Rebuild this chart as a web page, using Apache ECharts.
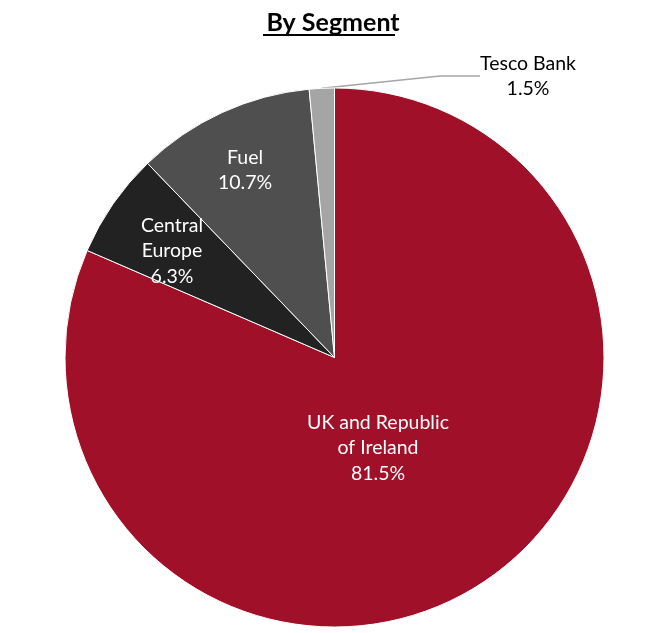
<!DOCTYPE html>
<html>
<head>
<meta charset="utf-8">
<script src="https://cdn.jsdelivr.net/npm/echarts@6/dist/echarts.min.js"></script>
<style>
html,body{margin:0;padding:0;background:#fff;}
#chart{width:669px;height:633px;}
</style>
</head>
<body>
<div id="chart"></div>
<script>
const categories = ['UK and Republic\nof Ireland', 'Central\nEurope', 'Fuel', 'Tesco Bank'];
const values = [81.5, 6.3, 10.7, 1.5];
const colors = ['#A01028', '#222222', '#4F4F4F', '#A5A5A5'];
const labelPos = [[378, 448], [172, 251], [245, 170], [528, 76]];

const chart = echarts.init(document.getElementById('chart'));
const FONT = 'Lato';

chart.setOption({
  backgroundColor: '#fff',
  animation: false,
  title: {
    text: 'By Segment',
    left: 328,
    top: 5,
    textAlign: 'center',
    textStyle: { fontFamily: FONT, fontWeight: 'bold', fontSize: 25, color: '#000' }
  },
  graphic: [{
    type: 'line',
    shape: { x1: 263, y1: 35, x2: 395, y2: 35 },
    style: { stroke: '#000', lineWidth: 2 }
  }],
  series: [{
    type: 'pie',
    center: [334.5, 357.5],
    radius: ['0%', 269.5],
    startAngle: 90,
    clockwise: true,
    avoidLabelOverlap: false,
    itemStyle: { borderColor: '#fff', borderWidth: 1 },
    labelLayout: function (params) {
      const p = labelPos[params.dataIndex];
      return { x: p[0], y: p[1], align: 'center', verticalAlign: 'middle' };
    },
    data: categories.map((c, i) => ({
      name: c,
      value: values[i],
      itemStyle: { color: colors[i] },
      label: i === 3 ? {
        show: true,
        position: 'outside',
        color: '#000',
        formatter: '{b}\n{c}%'
      } : {
        show: true,
        position: 'inside',
        color: '#fff',
        formatter: '{b}\n{c}%'
      },
      labelLine: i === 3 ? { show: true, length: 20, length2: 40, lineStyle: { color: '#A5A5A5', width: 1.5 } } : { show: false }
    })),
    label: {
      fontFamily: FONT,
      fontSize: 19.5,
      lineHeight: 25.5,
      align: 'center'
    }
  }]
});
</script>
</body>
</html>
